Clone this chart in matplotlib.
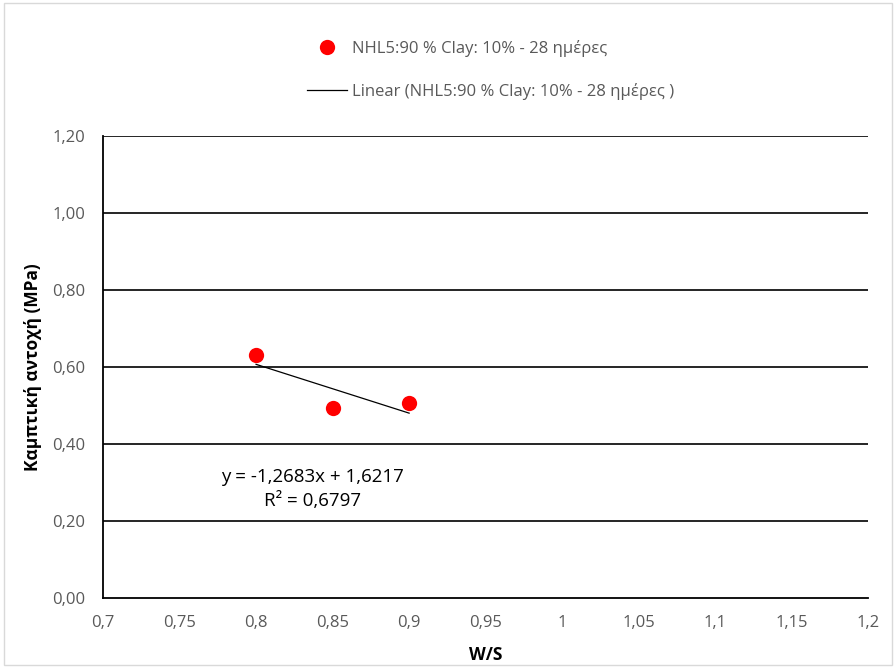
import matplotlib.pyplot as plt
from matplotlib.lines import Line2D
from matplotlib.patches import Rectangle

# data
ws = [0.80, 0.85, 0.90]
strength = [0.631, 0.494, 0.506]
trend_coef = [-1.2683, 1.6217]  # slope, intercept as printed on the chart
r2 = 0.6797

x_ticks = [0.7, 0.75, 0.8, 0.85, 0.9, 0.95, 1.0, 1.05, 1.1, 1.15, 1.2]
x_labels = ["0,7", "0,75", "0,8", "0,85", "0,9", "0,95", "1", "1,05", "1,1", "1,15", "1,2"]
y_ticks = [0.0, 0.2, 0.4, 0.6, 0.8, 1.0, 1.2]
y_labels = ["0,00", "0,20", "0,40", "0,60", "0,80", "1,00", "1,20"]

series_name = "NHL5:90 % Clay: 10% - 28 ημέρες"
trend_name = "Linear (NHL5:90 % Clay: 10% - 28 ημέρες )"

plt.rcParams['font.family'] = ['Open Sans', 'DejaVu Sans']
grey = '#595959'

fig = plt.figure(figsize=(8.96, 6.68), dpi=100)
ax = fig.add_axes([0.115, 0.105, 0.854, 0.691])

# gridlines
for yv in y_ticks[1:]:
    ax.axhline(yv, color='black', linewidth=1.2, zorder=1)

# trendline over the data range
xt = [min(ws), max(ws)]
yt = [trend_coef[0] * v + trend_coef[1] for v in xt]
ax.plot(xt, yt, color='black', linewidth=0.9, zorder=2)

ax.plot(ws, strength, 'o', color='#ff0000', markersize=11, markeredgewidth=0, zorder=3)

ax.set_xlim(0.7, 1.2)
ax.set_ylim(0, 1.2)
ax.set_xticks(x_ticks)
ax.set_xticklabels(x_labels)
ax.set_yticks(y_ticks)
ax.set_yticklabels(y_labels)
ax.tick_params(length=0, labelsize=12, labelcolor=grey)
ax.tick_params(axis='y', pad=13)
ax.tick_params(axis='x', pad=12)

for s in ['top', 'right']:
    ax.spines[s].set_visible(False)
for s in ['left', 'bottom']:
    ax.spines[s].set_color('black')
    ax.spines[s].set_linewidth(1.3)

ax.set_xlabel("W/S", fontsize=12.5, fontweight='bold', labelpad=11)
ax.set_ylabel("Καμπτική αντοχή (MPa)", fontsize=12.5, fontweight='bold', labelpad=7)

r2_txt = "R² = " + f"{r2:.4f}".replace('.', ',')
ax.text(0.837, 0.315, "y = -1,2683x + 1,6217", ha='center', va='center', fontsize=13.5)
ax.text(0.837, 0.253, r2_txt, ha='center', va='center', fontsize=13.5)

handles = [
    Line2D([], [], marker='o', linestyle='none', color='#ff0000', markersize=11, markeredgewidth=0),
    Line2D([], [], color='black', linewidth=0.9),
]
fig.legend(handles, [series_name, trend_name], loc='upper left',
           bbox_to_anchor=(0.326, 0.963), frameon=False, fontsize=12,
           labelcolor=grey, handlelength=2.4, labelspacing=1.55, handletextpad=0.3)

fig.patches.append(Rectangle((0.005, 0.005), 0.99, 0.99, transform=fig.transFigure,
                             fill=False, edgecolor='#d9d9d9', linewidth=1))

fig.savefig("out.png", dpi=100)
